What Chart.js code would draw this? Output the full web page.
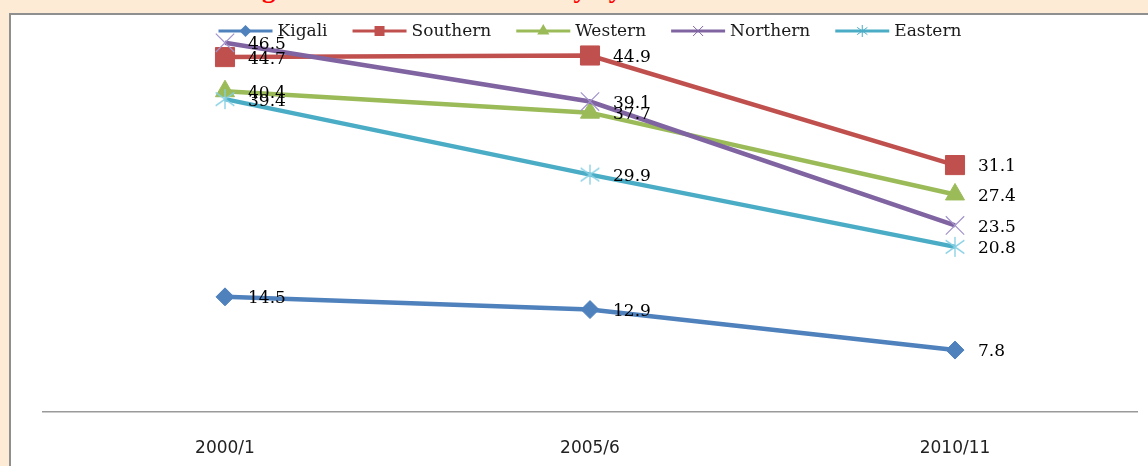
<!DOCTYPE html>
<html>
<head>
<meta charset="utf-8">
<script src="https://cdn.jsdelivr.net/npm/chart.js@4.4.1/dist/chart.umd.min.js"></script>
<style>
    html, body { margin: 0; padding: 0; width: 1148px; height: 466px; overflow: hidden; background: #FDEBD6; }
    #title { position: absolute; left: 238px; top: -27px; font: bold 27px "Liberation Serif"; color: #ff0000; white-space: nowrap; }
    #frame { position: absolute; left: 9px; top: 13px; width: 1150px; height: 470px; background: #fff; border-left: 2px solid #8f8f8f; border-top: 2px solid #8f8f8f; }
    canvas { position: absolute; left: 0; top: 0; }
</style>
</head>
<body>
<div id="title">Figure 1: Incidence of Poverty by Province</div>
<div id="frame"></div>
<canvas id="chart" width="1148" height="466"></canvas>
<script>
const categories = ['2000/1', '2005/6', '2010/11'];
const kigali = [14.5, 12.9, 7.8];
const southern = [44.7, 44.9, 31.1];
const western = [40.4, 37.7, 27.4];
const northern = [46.5, 39.1, 23.5];
const eastern = [39.4, 29.9, 20.8];

// asterisk marker (vertical bar + X), like the Excel star
const makeStar = (size, color) => {
    const c = document.createElement('canvas');
    c.width = size; c.height = size;
    const g = c.getContext('2d');
    const m = size / 2;
    g.strokeStyle = color;
    g.lineWidth = 1.3;
    g.beginPath();
    g.moveTo(m, 1); g.lineTo(m, size - 1);
    g.moveTo(m - m * 0.85, m - m * 0.6); g.lineTo(m + m * 0.85, m + m * 0.6);
    g.moveTo(m + m * 0.85, m - m * 0.6); g.lineTo(m - m * 0.85, m + m * 0.6);
    g.stroke();
    return c;
};

const drawMarker = (ctx, style, x, y, r, fill, stroke) => {
    ctx.save();
    ctx.fillStyle = fill;
    ctx.strokeStyle = stroke;
    ctx.lineWidth = 1;
    ctx.beginPath();
    if (style === 'rectRot') {
        ctx.moveTo(x, y - r); ctx.lineTo(x + r, y); ctx.lineTo(x, y + r); ctx.lineTo(x - r, y);
        ctx.closePath(); ctx.fill();
    } else if (style === 'rect') {
        ctx.rect(x - r, y - r, 2 * r, 2 * r); ctx.fill();
    } else if (style === 'triangle') {
        ctx.moveTo(x, y - r); ctx.lineTo(x + r * 0.87, y + r * 0.5); ctx.lineTo(x - r * 0.87, y + r * 0.5);
        ctx.closePath(); ctx.fill();
    } else if (style === 'crossRot') {
        ctx.moveTo(x - r, y - r); ctx.lineTo(x + r, y + r);
        ctx.moveTo(x + r, y - r); ctx.lineTo(x - r, y + r);
        ctx.stroke();
    } else {
        ctx.moveTo(x, y - r); ctx.lineTo(x, y + r);
        ctx.moveTo(x - r * 0.85, y - r * 0.6); ctx.lineTo(x + r * 0.85, y + r * 0.6);
        ctx.moveTo(x + r * 0.85, y - r * 0.6); ctx.lineTo(x - r * 0.85, y + r * 0.6);
        ctx.stroke();
    }
    ctx.restore();
};

const lineLegend = {
    id: 'lineLegend',
    afterDraw(chart) {
        const ctx = chart.ctx;
        const area = chart.chartArea;
        const sets = chart.data.datasets;
        ctx.save();
        ctx.font = '17px "DejaVu Serif"';
        const lineLen = 54, textGap = 5, itemGap = 25;
        const widths = sets.map(ds => lineLen + textGap + ctx.measureText(ds.label).width);
        const total = widths.reduce((a, b) => a + b, 0) + itemGap * (sets.length - 1);
        let x = (area.left + area.right) / 2 - total / 2;
        const y = 31;
        sets.forEach((ds, i) => {
            ctx.strokeStyle = ds.borderColor;
            ctx.lineWidth = 3;
            ctx.beginPath();
            ctx.moveTo(x, y); ctx.lineTo(x + lineLen, y);
            ctx.stroke();
            drawMarker(ctx, ds.legendStyle, x + lineLen / 2, y, ds.legendSize, ds.borderColor, ds.borderColor);
            ctx.fillStyle = '#1a1a1a';
            ctx.textBaseline = 'middle';
            ctx.textAlign = 'left';
            ctx.fillText(ds.label, x + lineLen + textGap, y + 1);
            x += widths[i] + itemGap;
        });
        ctx.restore();
    }
};

const pointLabels = {
    id: 'pointLabels',
    afterDatasetsDraw(chart) {
        const ctx = chart.ctx;
        ctx.save();
        ctx.font = '17px "DejaVu Serif"';
        ctx.fillStyle = '#000';
        ctx.textBaseline = 'middle';
        ctx.textAlign = 'left';
        chart.data.datasets.forEach((ds, i) => {
            chart.getDatasetMeta(i).data.forEach((pt, j) => {
                ctx.fillText(ds.data[j].toFixed(1), pt.x + 23, pt.y + 2);
            });
        });
        ctx.restore();
    }
};

new Chart(document.getElementById('chart'), {
    type: 'line',
    data: {
        labels: categories,
        datasets: [
            {
                label: 'Kigali', data: kigali, order: 4,
                borderColor: '#4F81BD', backgroundColor: '#4F81BD', borderWidth: 4.5,
                pointStyle: 'rectRot', pointRadius: 9, pointBorderWidth: 1,
                legendStyle: 'rectRot', legendSize: 6,
            },
            {
                label: 'Southern', data: southern, order: 3,
                borderColor: '#C0504D', backgroundColor: '#C0504D', borderWidth: 4.5,
                pointStyle: 'rect', pointRadius: 13.5, pointBorderWidth: 1,
                legendStyle: 'rect', legendSize: 5,
            },
            {
                label: 'Western', data: western, order: 2,
                borderColor: '#9BBB59', backgroundColor: '#9BBB59', borderWidth: 4.5,
                pointStyle: 'triangle', pointRadius: 11, pointBorderWidth: 1,
                legendStyle: 'triangle', legendSize: 7,
            },
            {
                label: 'Northern', data: northern, order: 1,
                borderColor: '#8064A2', backgroundColor: '#8064A2', borderWidth: 4.5,
                pointStyle: 'crossRot', pointRadius: 13, pointBorderWidth: 1.2, pointBorderColor: '#A393CB',
                legendStyle: 'crossRot', legendSize: 5,
            },
            {
                label: 'Eastern', data: eastern, order: 0,
                borderColor: '#4BACC6', backgroundColor: '#4BACC6', borderWidth: 4.5,
                pointStyle: makeStar(22, '#86CFE3'), pointRadius: 11,
                legendStyle: 'star', legendSize: 6,
            },
        ]
    },
    options: {
        responsive: false,
        animation: false,
        events: [],
        devicePixelRatio: 1,
        layout: { autoPadding: false, padding: { left: 42.5, right: 10.5, top: 15, bottom: 0 } },
        plugins: { legend: { display: false }, tooltip: { enabled: false } },
        scales: {
            x: {
                offset: true,
                grid: { display: false, drawTicks: true, tickLength: 26 },
                border: { display: true, color: '#9a9a9a', width: 1.5 },
                ticks: { color: '#222', padding: 0, font: { family: '"DejaVu Sans"', size: 17 } },
                afterFit: (scale) => {
                    scale.height = 54;
                    scale.paddingLeft = 0;
                    scale.paddingRight = 0;
                },
            },
            y: { display: false, min: 0, max: 50 },
        }
    },
    plugins: [pointLabels, lineLegend]
});
</script>
</body>
</html>
